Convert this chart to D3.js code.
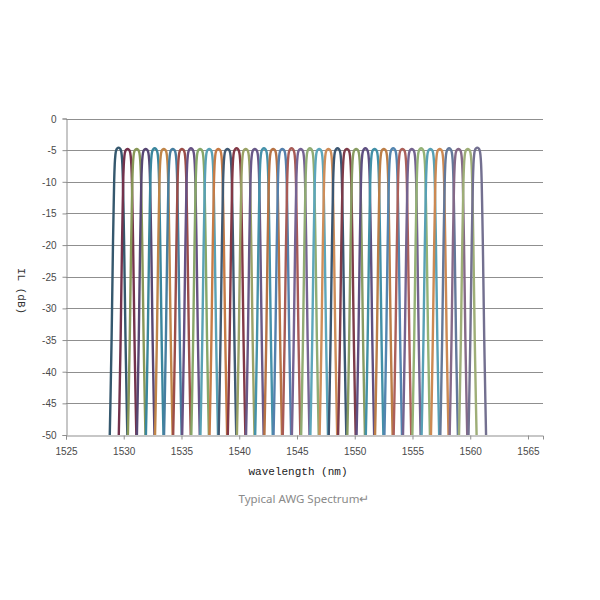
<!DOCTYPE html>
<html>
<head>
<meta charset="utf-8">
<script src="https://cdn.jsdelivr.net/npm/d3@7"></script>
<style>
  body { margin: 0; background: #fff; }
  svg { display: block; }
</style>
</head>
<body>
<svg width="600" height="600"></svg>
<script>
'use strict';

// channel centres (nm)
let centers = [1529.55, 1530.33, 1531.12, 1531.90, 1532.68, 1533.47, 1534.25, 1535.04,
  1535.82, 1536.61, 1537.40, 1538.19, 1538.98, 1539.77, 1540.56, 1541.35,
  1542.14, 1542.94, 1543.73, 1544.53, 1545.32, 1546.12, 1546.92, 1547.72,
  1548.51, 1549.32, 1550.12, 1550.92, 1551.72, 1552.52, 1553.33, 1554.13,
  1554.94, 1555.75, 1556.55, 1557.36, 1558.17, 1558.98, 1559.79, 1560.61];

// peak insertion loss per channel (dB)
let peaks = [-4.6, -4.8, -4.8, -4.8, -4.7, -4.8, -4.8, -4.8, -4.7, -4.8,
  -4.8, -4.8, -4.8, -4.7, -4.8, -4.8, -4.7, -4.8, -4.8, -4.7,
  -4.8, -4.7, -4.8, -4.8, -4.7, -4.8, -4.8, -4.7, -4.8, -4.8,
  -4.7, -4.8, -4.8, -4.7, -4.8, -4.8, -4.7, -4.8, -4.8, -4.6];

// passband shape: offset from centre (nm) and drop below the peak (dB)
let shapeOffset = [-0.76, -0.7, -0.65, -0.6, -0.56, -0.52, -0.48, -0.43, -0.38, -0.33, -0.27, -0.2, -0.1, 0,
  0.1, 0.2, 0.27, 0.33, 0.38, 0.43, 0.48, 0.52, 0.56, 0.6, 0.65, 0.7, 0.76];
let shapeDrop = [45.4, 40, 35, 30, 25, 20, 15, 10, 5.3, 2.6, 1.1, 0.4, 0.1, 0,
  0.1, 0.4, 1.1, 2.6, 5.3, 10, 15, 20, 25, 30, 35, 40, 45.4];

let xTicks = [1525, 1530, 1535, 1540, 1545, 1550, 1555, 1560, 1565];
let yTicks = [0, -5, -10, -15, -20, -25, -30, -35, -40, -45, -50];

let colors = ["#35586e", "#74324c", "#889858", "#574773", "#3a869d", "#c08548",
  "#467ea0", "#9c4d48", "#665183", "#87a768", "#58a1b5", "#c77b45",
  "#405a74", "#833846", "#9aa266", "#685988", "#4592aa", "#b77344",
  "#5480ad", "#a85a55", "#756392", "#90ac73", "#5ca6bb", "#cf8d58",
  "#3a5672", "#7e3b49", "#889c62", "#5e4f81", "#4290a7", "#bc7e47",
  "#5385b0", "#ac605a", "#74638f", "#94b275", "#57a0b5", "#cc8952",
  "#63789a", "#856988", "#9eae77", "#737090"];

let svg = d3.select("svg");

let x = d3.scaleLinear().domain([1525, 1566.3]).range([66, 543]);
let y = d3.scaleLinear().domain([0, -50]).range([118.5, 435]);

// horizontal gridlines
svg.append("g")
  .attr("stroke", "#8f8f8f")
  .attr("stroke-width", 1)
  .selectAll("line")
  .data(yTicks.filter(d => d > -50))
  .join("line")
    .attr("x1", x.range()[0])
    .attr("x2", x.range()[1])
    .attr("y1", d => Math.round(y(d)) + 0.5)
    .attr("y2", d => Math.round(y(d)) + 0.5);

// y axis
let yAxis = svg.append("g")
  .attr("transform", `translate(${x.range()[0] + 0.5},0)`)
  .call(d3.axisLeft(y).tickValues(yTicks).tickSize(4).tickPadding(6).tickFormat(d => String(d)));

// x axis
let xAxis = svg.append("g")
  .attr("transform", `translate(0,${Math.round(y(-50)) + 0.5})`)
  .call(d3.axisBottom(x).tickValues(xTicks).tickSize(4).tickPadding(8).tickFormat(d => String(d)));

[yAxis, xAxis].forEach(a => {
  a.select(".domain").attr("stroke", "#8f8f8f");
  a.selectAll(".tick line").attr("stroke", "#8f8f8f");
  a.selectAll(".tick text")
    .attr("fill", "#4a4a4a")
    .style("font-family", "'Liberation Sans Narrow', 'Liberation Sans', sans-serif")
    .style("font-size", "10px");
});
yAxis.selectAll(".tick text").attr("dy", "0.35em");

// channels
let line = d3.line()
  .x(d => x(d[0]))
  .y(d => y(Math.max(d[1], -50)))
  .curve(d3.curveMonotoneX);

svg.append("g")
  .attr("fill", "none")
  .attr("stroke-width", 2.4)
  .attr("stroke-linejoin", "round")
  .selectAll("path")
  .data(centers)
  .join("path")
    .attr("stroke", (d, i) => colors[i % colors.length])
    .attr("d", (c, i) => line(shapeOffset.map((o, j) => [c + o, peaks[i] - shapeDrop[j]])));

// labels
svg.append("text")
  .attr("transform", "translate(18,291) rotate(90)")
  .attr("text-anchor", "middle")
  .attr("fill", "#333")
  .style("font-family", "'Liberation Mono', monospace")
  .style("font-size", "11px")
  .text("IL (dB)");

svg.append("text")
  .attr("x", 298)
  .attr("y", 475)
  .attr("text-anchor", "middle")
  .attr("fill", "#222")
  .style("font-family", "'Liberation Mono', monospace")
  .style("font-size", "11px")
  .text("wavelength (nm)");

svg.append("text")
  .attr("x", 304)
  .attr("y", 503)
  .attr("text-anchor", "middle")
  .attr("fill", "#8a8a8a")
  .style("font-family", "'Noto Sans', sans-serif")
  .style("font-size", "11.5px")
  .text("Typical AWG Spectrum\u21B5");
</script>
</body>
</html>
